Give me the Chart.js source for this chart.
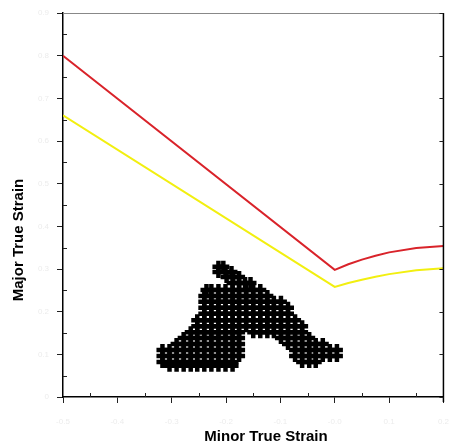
<!DOCTYPE html>
<html>
<head>
<meta charset="utf-8">
<script src="https://cdn.jsdelivr.net/npm/chart.js@4.4.0/dist/chart.umd.min.js"></script>
<style>
  html, body { margin: 0; padding: 0; background: #fff; }
</style>
</head>
<body>
<canvas id="flcChart" width="463" height="447"></canvas>
<script>
// limit curves (minor strain -> major strain)
const curveMinor = [-0.5, 0, 0.025, 0.05, 0.075, 0.1, 0.15, 0.2];
const redMajor = [0.80, 0.298, 0.311, 0.322, 0.331, 0.339, 0.349, 0.354];
const yellowMajor = [0.66, 0.258, 0.267, 0.275, 0.282, 0.288, 0.297, 0.302];

// measured strain points, one row per major strain level
const blobMajor = [0.305, 0.293, 0.281, 0.267, 0.251, 0.237, 0.223, 0.209, 0.195,
    0.180, 0.166, 0.152, 0.138, 0.124, 0.110, 0.096, 0.082, 0.073];
const blobMinor = [
    [-0.214, -0.205],
    [-0.214, -0.201, -0.190],
    [-0.199, -0.187, -0.176],
    [-0.188, -0.176, -0.165, -0.155],
    [-0.236, -0.227, -0.214, -0.201, -0.188, -0.176, -0.163, -0.150, -0.137],
    [-0.240, -0.227, -0.214, -0.201, -0.188, -0.176, -0.163, -0.150, -0.137, -0.124],
    [-0.240, -0.227, -0.214, -0.201, -0.188, -0.176, -0.163, -0.150, -0.137, -0.124, -0.112, -0.099],
    [-0.240, -0.227, -0.214, -0.201, -0.188, -0.176, -0.163, -0.150, -0.137, -0.124, -0.112, -0.099, -0.086],
    [-0.240, -0.227, -0.214, -0.201, -0.188, -0.176, -0.163, -0.150, -0.137, -0.124, -0.112, -0.099, -0.086],
    [-0.253, -0.240, -0.227, -0.214, -0.201, -0.188, -0.176, -0.163, -0.150, -0.137, -0.124, -0.112, -0.099, -0.086, -0.073],
    [-0.253, -0.240, -0.227, -0.214, -0.201, -0.188, -0.176, -0.163, -0.150, -0.137, -0.124, -0.112, -0.099, -0.086, -0.073, -0.060],
    [-0.265, -0.253, -0.240, -0.227, -0.214, -0.201, -0.188, -0.176, -0.150, -0.137, -0.124, -0.112, -0.099, -0.086, -0.073, -0.060],
    [-0.278, -0.265, -0.253, -0.240, -0.227, -0.214, -0.201, -0.188, -0.176, -0.099, -0.086, -0.073, -0.060, -0.047],
    [-0.291, -0.278, -0.265, -0.253, -0.240, -0.227, -0.214, -0.201, -0.188, -0.176, -0.086, -0.073, -0.060, -0.047, -0.035, -0.022],
    [-0.317, -0.304, -0.291, -0.278, -0.265, -0.253, -0.240, -0.227, -0.214, -0.201, -0.188, -0.176, -0.073, -0.060, -0.047, -0.035, -0.022, -0.009, 0.004],
    [-0.317, -0.304, -0.291, -0.278, -0.265, -0.253, -0.240, -0.227, -0.214, -0.201, -0.188, -0.176, -0.073, -0.060, -0.047, -0.035, -0.022, -0.009, 0.004],
    [-0.317, -0.304, -0.291, -0.278, -0.265, -0.253, -0.240, -0.227, -0.214, -0.201, -0.188, -0.060, -0.047, -0.035],
    [-0.304, -0.291, -0.278, -0.265, -0.253, -0.240, -0.227, -0.214, -0.201, -0.188]
];

// axis range
const xMin = -0.5, xMax = 0.2, xStep = 0.1;
const yMin = 0, yMax = 0.9, yStep = 0.1;

const blobPoints = [];
blobMajor.forEach((major, i) => {
    blobMinor[i].forEach(minor => blobPoints.push({ x: minor, y: major }));
});

const titleFont = 'bold 15px "Liberation Sans", Arial, sans-serif';

// frame, minor ticks and axis titles
const framePlugin = {
    id: 'frame',
    afterDraw(chart) {
        const { ctx, chartArea: a, scales: { x, y } } = chart;
        ctx.save();
        ctx.strokeStyle = '#888';
        ctx.lineWidth = 1;
        ctx.beginPath();
        ctx.moveTo(a.left, a.top + 0.5);
        ctx.lineTo(a.right, a.top + 0.5);
        ctx.stroke();

        ctx.strokeStyle = '#000';
        ctx.lineWidth = 1.5;
        ctx.beginPath();
        ctx.moveTo(a.right, a.top);
        ctx.lineTo(a.right, a.bottom + 5);
        ctx.stroke();

        ctx.lineWidth = 1;
        ctx.strokeStyle = '#222';
        ctx.beginPath();
        y.ticks.forEach(t => {
            const py = Math.round(y.getPixelForValue(t.value)) + 0.5;
            ctx.moveTo(a.right - 4, py);
            ctx.lineTo(a.right, py);
            const pm = Math.round(y.getPixelForValue(t.value + yStep / 2)) + 0.5;
            if (t.value + yStep / 2 < yMax) {
                ctx.moveTo(a.left, pm);
                ctx.lineTo(a.left + 4, pm);
            }
        });
        x.ticks.forEach(t => {
            if (t.value + xStep / 2 < xMax) {
                const px = Math.round(x.getPixelForValue(t.value + xStep / 2)) + 0.5;
                ctx.moveTo(px, a.bottom);
                ctx.lineTo(px, a.bottom - 4);
            }
        });
        ctx.stroke();

        ctx.fillStyle = '#000';
        ctx.font = titleFont;
        ctx.textAlign = 'center';
        ctx.textBaseline = 'middle';
        ctx.fillText('Minor True Strain', 266, 437);
        ctx.translate(19, 240);
        ctx.rotate(-Math.PI / 2);
        ctx.fillText('Major True Strain', 0, 0);
        ctx.restore();
    }
};

const ctx = document.getElementById('flcChart').getContext('2d');
new Chart(ctx, {
    type: 'scatter',
    data: {
        datasets: [
            {
                label: 'Limit',
                type: 'line',
                data: curveMinor.map((v, i) => ({ x: v, y: redMajor[i] })),
                borderColor: '#d9232a',
                borderWidth: 2,
                pointRadius: 0,
                tension: 0,
                fill: false
            },
            {
                label: 'Safety',
                type: 'line',
                data: curveMinor.map((v, i) => ({ x: v, y: yellowMajor[i] })),
                borderColor: '#f2ef10',
                borderWidth: 2,
                pointRadius: 0,
                tension: 0,
                fill: false
            },
            {
                label: 'Measured',
                data: blobPoints,
                pointStyle: 'cross',
                pointRadius: 6,
                borderColor: '#000',
                borderWidth: 4.5
            }
        ]
    },
    options: {
        responsive: false,
        animation: false,
        layout: { padding: { top: 13, right: 18, left: 0, bottom: 0 } },
        plugins: {
            legend: { display: false },
            tooltip: { enabled: false }
        },
        scales: {
            x: {
                type: 'linear',
                min: xMin,
                max: xMax,
                ticks: { stepSize: xStep, color: '#ececec', font: { size: 8 }, padding: 14 },
                grid: { drawOnChartArea: false, tickLength: 6, color: '#222' },
                border: { color: '#000', width: 1.5 },
                afterFit: s => { s.height = 50; }
            },
            y: {
                min: yMin,
                max: yMax,
                ticks: { stepSize: yStep, color: '#ececec', font: { size: 8 }, padding: 8 },
                grid: { drawOnChartArea: false, tickLength: 6, color: '#222' },
                border: { color: '#000', width: 1.5 },
                afterFit: s => { s.width = 63; }
            }
        }
    },
    plugins: [framePlugin]
});
</script>
</body>
</html>
